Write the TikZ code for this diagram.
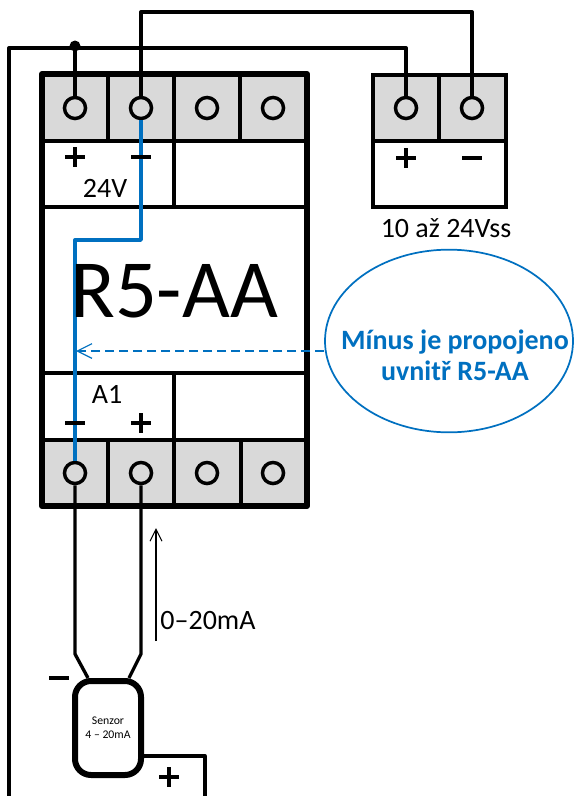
\documentclass[tikz,border=0pt]{standalone}
\usepackage{fontspec}
\setmainfont{Carlito}
\usetikzlibrary{arrows.meta,calc,shapes.geometric}
\definecolor{bl}{HTML}{0070C0}
\definecolor{gy}{HTML}{D9D9D9}
\tikzset{
 x=0.75pt,y=-0.75pt,
 term/.style={circle,draw=black,line width=2.6pt,fill=none,minimum size=15.8pt,inner sep=0pt},
 wire/.style={draw=black,line width=2.5pt,line join=round},
 bwire/.style={draw=bl,line width=2.5pt,line join=round},
 frame/.style={draw=black,line width=4.6pt,line join=round},
 div/.style={draw=black,line width=2.6pt},
 lab/.style={inner sep=0pt,font=\fontsize{21}{24}\selectfont},
 sign/.style={draw=black,line width=3.4pt},
}
\begin{document}
\begin{tikzpicture}
\useasboundingbox (0,0) rectangle (582,796);
% grey terminal strips
\fill[gy] (42,74) rectangle (307,141);
\fill[gy] (42,440) rectangle (307,506);
\fill[gy] (373,75) rectangle (506,141);
% terminals
\node[term] (a1) at (75,108) {};
\node[term] (a2) at (141,108) {};
\node[term] (a3) at (207,108) {};
\node[term] (a4) at (273,108) {};
\node[term] (b1) at (75,473) {};
\node[term] (b2) at (141,473) {};
\node[term] (b3) at (207,473) {};
\node[term] (b4) at (273,473) {};
\node[term] (c1) at (406,108) {};
\node[term] (c2) at (472,108) {};
% module lines
\draw[div] (108,74)--(108,141);
\draw[div] (174,74)--(174,207);
\draw[div] (240,74)--(240,141);
\draw[div] (42,141)--(307,141);
\draw[div] (42,207)--(307,207);
\draw[div] (42,373)--(307,373);
\draw[div] (42,440)--(307,440);
\draw[div] (174,373)--(174,506);
\draw[div] (108,440)--(108,506);
\draw[div] (241,440)--(241,506);
\draw[frame] (42,74) rectangle (307,506);
% right block
\draw[div] (373,75) rectangle (506,207);
\draw[div] (373,141)--(506,141);
\draw[div] (439,75)--(439,141);
% blue wire
\coordinate (k1) at (141,240);
\coordinate (k2) at (75,240);
\draw[bwire] (a2.south)--(k1)--(k2)--(b1.north);
% signs
\draw[sign] (65,157)--(85,157) (75,147)--(75,167);
\draw[sign] (131,157)--(151,157);
\draw[sign] (65,423)--(85,423);
\draw[sign] (131,423)--(151,423) (141,413)--(141,433);
\draw[sign] (396,158)--(416,158) (406,148)--(406,168);
\draw[sign] (462,158)--(482,158);
\draw[sign] (49,678)--(69,678);
\draw[sign] (159,777)--(179,777) (169,767)--(169,787);
% top wires
\coordinate (dot) at (75,46);
\coordinate (lt) at (9,48);
\coordinate (lb) at (9,796);
\coordinate (rt) at (406,48);
\coordinate (ht1) at (141,12);
\coordinate (ht2) at (472,12);
\fill[black] (dot) circle[radius=5.5];
\draw[wire] (a1.north)--(dot);
\draw[wire] (lb)--(lt)--(rt)--(c1.north);
\draw[wire] (a2.north)--(ht1)--(ht2)--(c2.north);
% sensor
\node[draw=black,line width=4.5pt,rounded corners=12pt,minimum width=49.5pt,minimum height=70.5pt,inner sep=0pt,align=center,font=\fontsize{8.8}{10.5}\selectfont] (s) at (108,728) {Senzor\\4 – 20mA};
\coordinate (w1) at (75,654);
\coordinate (w2) at (141,654);
\coordinate (w3) at (88,678);
\coordinate (w4) at (129,678);
\coordinate (p1) at (205,756);
\coordinate (p2) at (205,796);
\draw[wire] (b1.south)--(w1)--(w3);
\draw[wire] (b2.south)--(w2)--(w4);
\draw[wire] (144,756)--(p1)--(p2);
% current arrow
\coordinate (ca) at (156,528);
\coordinate (cb) at (156,641);
\draw[black,line width=1pt,-{Straight Barb[length=9pt,width=9pt,line width=0.8pt]}] (cb)--(ca);
% callout
\node[draw=bl,line width=1.3pt,fill=white,ellipse,minimum width=186pt,minimum height=137pt,inner sep=0pt] (e) at (449,341) {};
\coordinate (tip) at (76,351);
\draw[bl,line width=1.5pt,dashed,dash pattern=on 7pt off 3.5pt,-{Straight Barb[length=11pt,width=11pt,line width=0.9pt]}] (e.west |- tip)--(tip);
% texts
\node[lab] (t24) at (105,188) {24V};
\node[lab] (ta1) at (107,394) {A1};
\node[lab] (tr) at (446,228) {10 až 24Vss};
\node[lab] (tm) at (208,621) {0–20mA};
\node[inner sep=0pt,font=\fontsize{62}{70}\selectfont] (tt) at (174,291) {R5-AA};
\node[inner sep=0pt,text=bl,align=center,font=\bfseries\fontsize{21}{23.2}\selectfont] (tc) at (455,355) {Mínus je propojeno\\uvnitř R5-AA};
\end{tikzpicture}
\end{document}
